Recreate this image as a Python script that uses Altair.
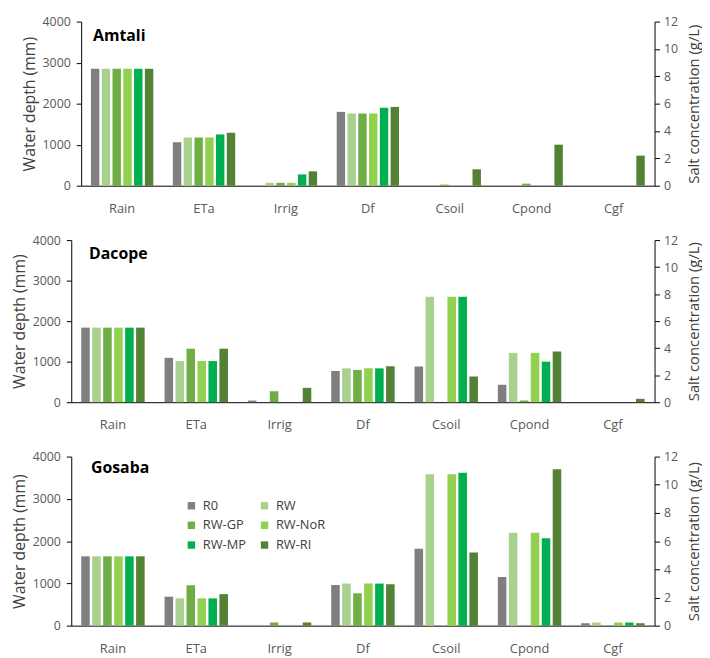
import altair as alt
import pandas as pd

FONT = "Open Sans"
series = ["R0", "RW", "RW-GP", "RW-NoR", "RW-MP", "RW-RI"]
colors = ["#7F7F7F", "#A9D18E", "#70AD47", "#92D050", "#00B050", "#548235"]
categories = ["Rain", "ETa", "Irrig", "Df", "Csoil", "Cpond", "Cgf"]
water_cats = ["Rain", "ETa", "Irrig", "Df"]
salt_cats = ["Csoil", "Cpond", "Cgf"]

# values per series in order R0, RW, RW-GP, RW-NoR, RW-MP, RW-RI (0 = no bar)
amtali_rain = [2850, 2850, 2850, 2850, 2850, 2850]
amtali_eta = [1060, 1175, 1175, 1175, 1250, 1290]
amtali_irrig = [0, 70, 70, 70, 275, 350]
amtali_df = [1800, 1760, 1760, 1760, 1900, 1920]
amtali_csoil = [0, 0, 0.08, 0, 0, 1.2]
amtali_cpond = [0, 0, 0.15, 0, 0, 3.0]
amtali_cgf = [0, 0, 0, 0, 0, 2.2]

dacope_rain = [1840, 1840, 1840, 1840, 1840, 1840]
dacope_eta = [1095, 1015, 1320, 1015, 1015, 1320]
dacope_irrig = [40, 0, 270, 0, 0, 355]
dacope_df = [770, 835, 795, 835, 835, 890]
dacope_csoil = [2.65, 7.8, 0, 7.8, 7.8, 1.9]
dacope_cpond = [1.3, 3.65, 0.12, 3.65, 3.0, 3.75]
dacope_cgf = [0, 0, 0, 0, 0, 0.25]

gosaba_rain = [1640, 1640, 1640, 1640, 1640, 1640]
gosaba_eta = [685, 645, 955, 645, 645, 745]
gosaba_irrig = [0, 0, 75, 0, 0, 75]
gosaba_df = [960, 995, 765, 995, 995, 980]
gosaba_csoil = [5.45, 10.75, 0, 10.75, 10.85, 5.2]
gosaba_cpond = [3.45, 6.6, 0, 6.6, 6.2, 11.1]
gosaba_cgf = [0.17, 0.22, 0, 0.22, 0.22, 0.17]

sites = {
    "Amtali": [amtali_rain, amtali_eta, amtali_irrig, amtali_df, amtali_csoil, amtali_cpond, amtali_cgf],
    "Dacope": [dacope_rain, dacope_eta, dacope_irrig, dacope_df, dacope_csoil, dacope_cpond, dacope_cgf],
    "Gosaba": [gosaba_rain, gosaba_eta, gosaba_irrig, gosaba_df, gosaba_csoil, gosaba_cpond, gosaba_cgf],
}

LABEL = "#595959"
TITLE = "#404040"
W = 590


def make_df(site, cats):
    rows = []
    for cat, vals in zip(categories, sites[site]):
        if cat not in cats:
            continue
        for s, v in zip(series, vals):
            if v > 0:
                rows.append({"cat": cat, "series": s, "value": v})
    return pd.DataFrame(rows)


def panel(site, height, legend, title_dx, title_dy, inset):
    x = alt.X("cat:N", sort=categories,
              scale=alt.Scale(domain=categories, range=[inset, W],
                              paddingInner=0.21, paddingOuter=0.105),
              axis=alt.Axis(title=None, ticks=False, labelAngle=0, labelPadding=17,
                            labelFont=FONT, labelFontSize=13, labelColor=LABEL,
                            domainColor="#000000", domainWidth=1))
    xo = alt.XOffset("series:N", sort=series,
                     scale=alt.Scale(domain=series, paddingInner=0.22, paddingOuter=0.11))
    color = alt.Color("series:N", sort=series,
                      scale=alt.Scale(domain=series, range=colors), legend=legend)
    water = alt.Chart(make_df(site, water_cats)).mark_bar().encode(
        x=x, xOffset=xo, color=color,
        y=alt.Y("value:Q", scale=alt.Scale(domain=[0, 4000], nice=False),
                axis=alt.Axis(title="Water depth (mm)", values=[0, 1000, 2000, 3000, 4000],
                              format="d", offset=-inset,
                              grid=False, tickSize=5, labelPadding=6, titlePadding=5,
                              labelFont=FONT, labelFontSize=12.5, labelColor=LABEL,
                              titleFont=FONT, titleFontSize=16, titleFontWeight="normal",
                              titleColor=TITLE, domainColor="#000000", tickColor="#000000")),
    )
    salt = alt.Chart(make_df(site, salt_cats)).mark_bar().encode(
        x=x, xOffset=xo, color=color,
        y=alt.Y("value:Q", scale=alt.Scale(domain=[0, 12], nice=False),
                axis=alt.Axis(orient="right", title="Salt concentration (g/L)",
                              values=[0, 2, 4, 6, 8, 10, 12], format="d",
                              grid=False, tickSize=5, labelPadding=4, titlePadding=9,
                              titleAngle=270, titleBaseline="top",
                              labelFont=FONT, labelFontSize=12.5, labelColor=LABEL,
                              titleFont=FONT, titleFontSize=15, titleFontWeight="normal",
                              titleColor=TITLE, domainColor="#000000", tickColor="#000000")),
    )
    name = alt.Chart(pd.DataFrame({"t": [site]})).mark_text(
        align="left", baseline="middle", font=FONT, fontSize=16, fontWeight="bold", color="#000000"
    ).encode(text="t:N", x=alt.value(title_dx), y=alt.value(title_dy))
    return alt.layer(water, salt, name).resolve_scale(y="independent").properties(
        width=W, height=height)


legend = alt.Legend(orient="none", legendX=115, legendY=43, columns=2, direction="horizontal",
                    title=None,
                    symbolType="square", symbolSize=56, symbolStrokeWidth=0,
                    labelFont=FONT, labelFontSize=13, labelColor=TITLE,
                    columnPadding=12, rowPadding=6, labelOffset=5, padding=0)

p1 = panel("Amtali", 166, None, 22, 15, 10)
p2 = panel("Dacope", 164, None, 18, 14, 0)
p3 = panel("Gosaba", 171, legend, 20, 12, 0)

chart = alt.vconcat(p1, p2, p3, spacing=19).resolve_scale(
    color="independent", x="independent", xOffset="independent"
).properties(padding={"top": 4, "left": 3, "right": 0, "bottom": 0}).configure_view(stroke=None)

chart.save("out.html", embed_options={"renderer": "svg", "actions": False})
